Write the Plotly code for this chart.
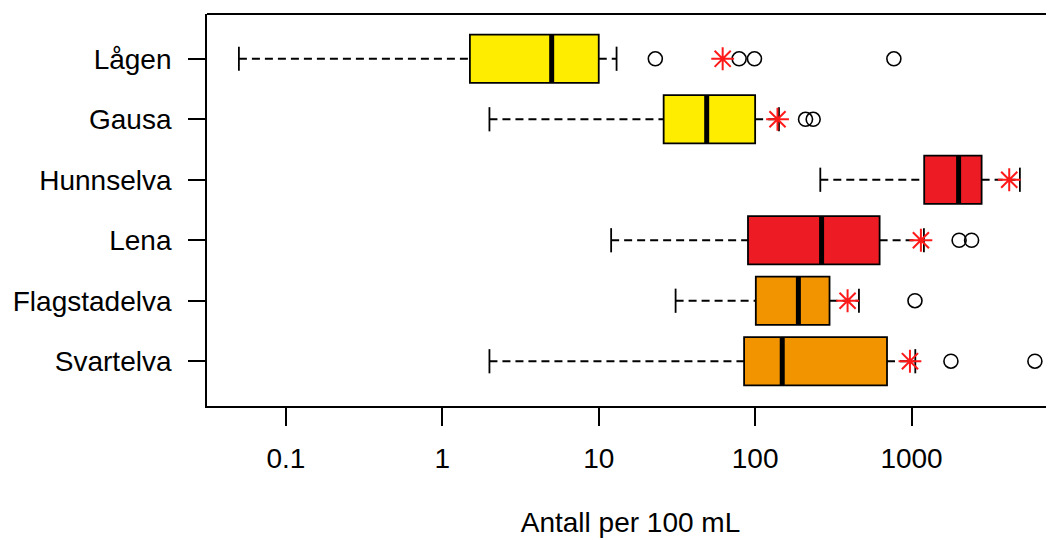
import plotly.graph_objects as go

# ---- data ----
rivers = ["Lågen", "Gausa", "Hunnselva", "Lena", "Flagstadelva", "Svartelva"]
box_colors = ["#FFED00", "#FFED00", "#ED1C24", "#ED1C24", "#F29400", "#F29400"]
lower_whisker = [0.05, 2.0, 261, 12.0, 31, 2.0]
q1 = [1.5, 26, 1205, 90, 101, 85]
median = [5.0, 49, 2000, 266, 189, 149]
q3 = [10, 100, 2806, 625, 299, 697]
upper_whisker = [13, 142, 4930, 1200, 461, 1057]
means = [62, 139, 4214, 1148, 390, 977]
outliers = [[23, 79, 99, 771], [210, 235], [], [2015, 2421], [1052], [1786, 6150]]

x_tickvals = [0.1, 1, 10, 100, 1000]
x_ticktext = ["0.1", "1", "10", "100", "1000"]
x_title = "Antall per 100 mL"

FONT = "Liberation Sans, Arial, sans-serif"
FS = 28
BOXW = 0.8
CAPW = 0.4

positions = list(range(1, len(rivers) + 1))

fig = go.Figure()

# boxes
for p, c, a, m, b in zip(positions, box_colors, q1, median, q3):
    fig.add_trace(go.Box(
        y=[p], q1=[a], median=[m], q3=[b], lowerfence=[a], upperfence=[b],
        orientation="h", width=BOXW, fillcolor=c,
        line=dict(color="black", width=1.8), showlegend=False,
        hoverinfo="skip",
    ))

# whiskers (dashed)
wx, wy = [], []
for p, lw, a, b, uw in zip(positions, lower_whisker, q1, q3, upper_whisker):
    wx += [lw, a, None, b, uw, None]
    wy += [p, p, None, p, p, None]
fig.add_trace(go.Scatter(x=wx, y=wy, mode="lines",
                         line=dict(color="black", width=1.8, dash="8px,5px"),
                         showlegend=False, hoverinfo="skip"))

# whisker caps
cx, cy = [], []
for p, lw, uw in zip(positions, lower_whisker, upper_whisker):
    cx += [lw, lw, None, uw, uw, None]
    cy += [p - CAPW / 2, p + CAPW / 2, None, p - CAPW / 2, p + CAPW / 2, None]
fig.add_trace(go.Scatter(x=cx, y=cy, mode="lines",
                         line=dict(color="black", width=1.8),
                         showlegend=False, hoverinfo="skip"))

# medians (thick)
mx, my = [], []
for p, m in zip(positions, median):
    mx += [m, m, None]
    my += [p - BOXW / 2, p + BOXW / 2, None]
fig.add_trace(go.Scatter(x=mx, y=my, mode="lines",
                         line=dict(color="black", width=5),
                         showlegend=False, hoverinfo="skip"))

# outliers
ox, oy = [], []
for p, outs in zip(positions, outliers):
    for o in outs:
        ox.append(o)
        oy.append(p)
fig.add_trace(go.Scatter(x=ox, y=oy, mode="markers",
                         marker=dict(symbol="circle-open", size=14, color="black",
                                     line=dict(width=1.6, color="black")),
                         showlegend=False, hoverinfo="skip"))

# means (red asterisks)
fig.add_trace(go.Scatter(x=means, y=positions, mode="markers",
                         marker=dict(symbol="asterisk-open", size=19, color="#FF1A1A",
                                     line=dict(width=2, color="#FF1A1A")),
                         showlegend=False, hoverinfo="skip"))

# top frame line (right edge is cropped in the reference)
fig.add_shape(type="line", xref="paper", yref="paper", x0=0, x1=1, y0=1, y1=1,
              line=dict(color="black", width=1.8))

# page body has an 8px margin, so the figure is sized to fit the window
fig.update_layout(
    width=1046, height=532,
    margin=dict(l=199, r=0, t=6, b=134),
    paper_bgcolor="white", plot_bgcolor="white",
    font=dict(family=FONT, size=FS, color="black"),
    showlegend=False,
)
fig.update_xaxes(
    type="log", range=[-1.505, 3.911],
    tickmode="array", tickvals=x_tickvals, ticktext=x_ticktext,
    ticks="outside", ticklen=18, tickwidth=1.6, tickcolor="black",
    ticklabelstandoff=8,
    showline=True, linecolor="black", linewidth=1.8,
    showgrid=False, zeroline=False,
    title=dict(text=x_title, font=dict(size=FS), standoff=40),
    tickfont=dict(size=FS),
)
fig.update_yaxes(
    range=[6.74, 0.26],
    tickmode="array", tickvals=positions, ticktext=rivers,
    ticks="outside", ticklen=17, tickwidth=1.6, tickcolor="black",
    ticklabelstandoff=11,
    showline=True, linecolor="black", linewidth=1.8,
    showgrid=False, zeroline=False,
    tickfont=dict(size=FS),
)

fig.write_html("out.html")
